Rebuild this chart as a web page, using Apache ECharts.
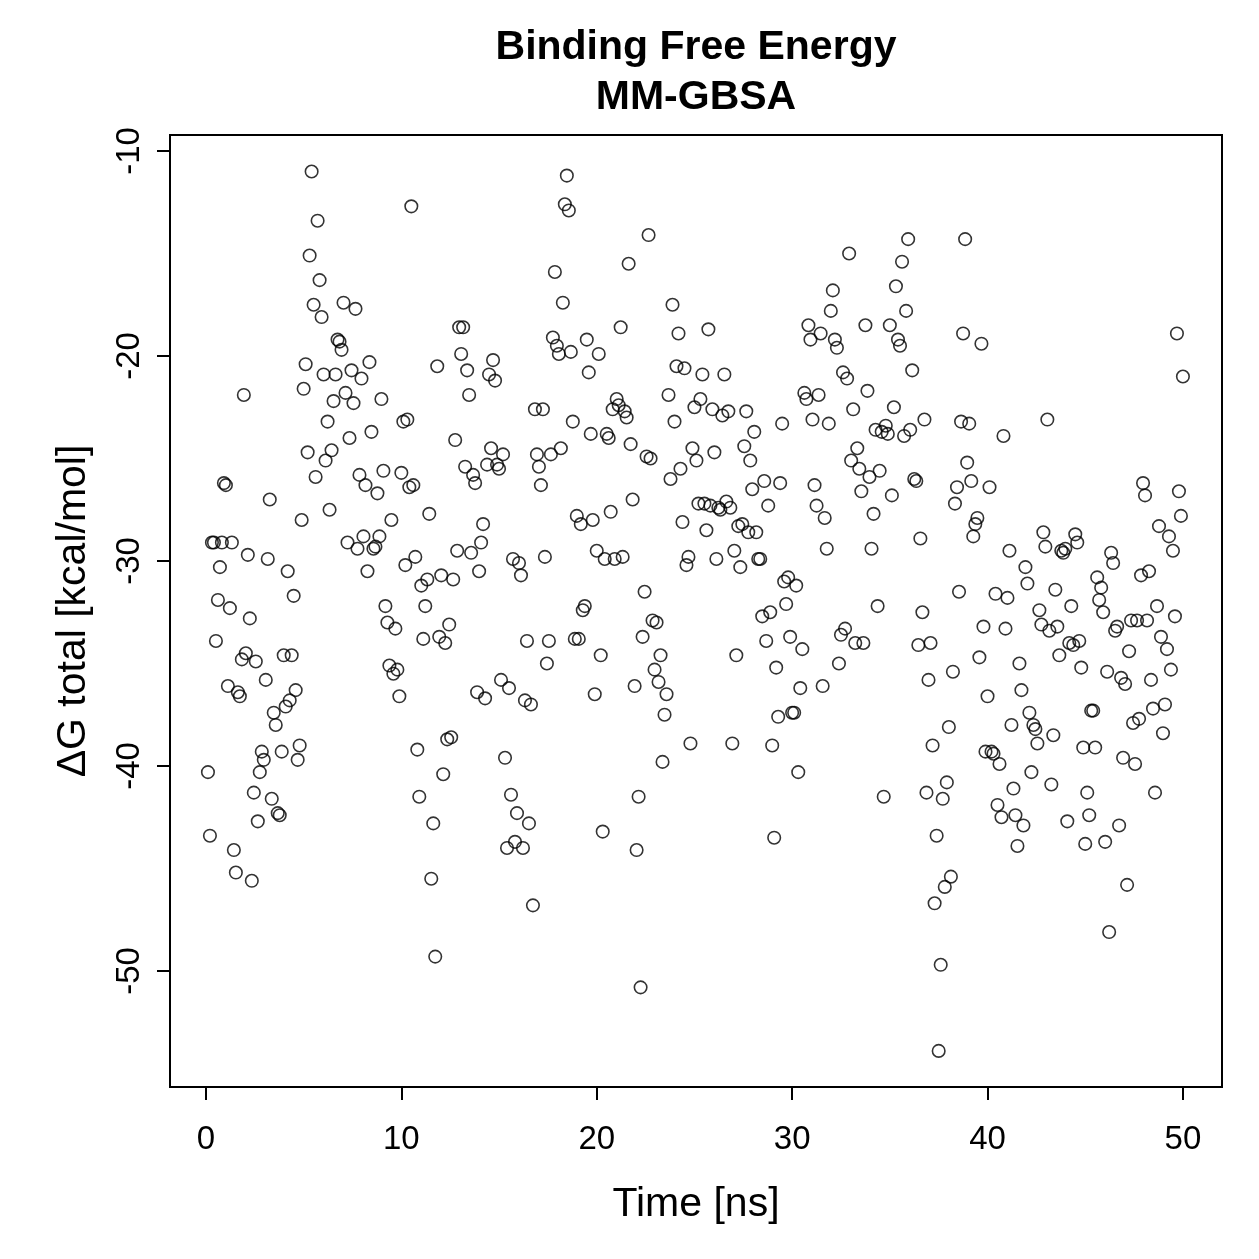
<!DOCTYPE html>
<html>
<head>
<meta charset="utf-8">
<title>Binding Free Energy MM-GBSA</title>
<script src="https://cdn.jsdelivr.net/npm/echarts@6/dist/echarts.min.js"></script>
<style>
  html, body { margin: 0; padding: 0; background: #fff; }
  #chart { width: 1259px; height: 1259px; }
</style>
</head>
<body>
<div id="chart"></div>
<script>
  // dG total [kcal/mol], one value every 0.1 ns, split into 5 ns blocks
  const block0 = [-40.3, -43.4, -29.1, -29.1, -33.9, -31.9, -30.3, -29.1, -26.2, -26.3, -36.1, -32.3, -29.1, -44.1, -45.2, -36.4, -36.6, -34.8, -21.9, -34.5, -29.7, -32.8, -45.6, -41.3, -34.9, -42.7, -40.3, -39.3, -39.7, -35.8, -29.9, -27.0, -41.6, -37.4, -38.0, -42.3, -42.4, -39.3, -34.6, -37.1, -30.5, -36.8, -34.6, -31.7, -36.3, -39.7, -39.0, -28.0, -21.6];
  const block1 = [-20.4, -24.7, -15.1, -11.0, -17.5, -25.9, -13.4, -16.3, -18.1, -20.9, -25.1, -23.2, -27.5, -24.6, -22.2, -20.9, -19.2, -19.3, -19.7, -17.4, -21.8, -29.1, -24.0, -20.7, -22.3, -17.7, -29.4, -25.8, -21.1, -28.8, -26.3, -30.5, -20.3, -23.7, -29.4, -29.3, -26.7, -28.8, -22.1, -25.6, -32.2, -33.0, -35.1, -28.0, -35.5, -33.3, -35.3, -36.6, -25.7];
  const block2 = [-23.2, -30.2, -23.1, -26.4, -12.7, -26.3, -29.8, -39.2, -41.5, -31.2, -33.8, -32.2, -30.9, -27.7, -45.5, -42.8, -49.3, -20.5, -33.7, -30.7, -40.4, -34.0, -38.7, -33.1, -38.6, -30.9, -24.1, -29.5, -18.6, -19.9, -18.6, -25.4, -20.7, -21.9, -29.6, -25.8, -26.2, -36.4, -30.5, -29.1, -28.2, -36.7, -25.3, -20.9, -24.5, -20.2, -21.2, -25.3, -25.5];
  const block3 = [-35.8, -24.8, -39.6, -44.0, -36.2, -41.4, -29.9, -43.7, -42.3, -30.1, -30.7, -44.0, -36.8, -33.9, -42.8, -37.0, -46.8, -22.6, -24.8, -25.4, -26.3, -22.6, -29.8, -35.0, -33.9, -24.8, -19.1, -15.9, -19.5, -19.9, -24.5, -17.4, -12.6, -11.2, -12.9, -19.8, -23.2, -33.8, -27.8, -33.8, -28.2, -32.4, -32.2, -19.2, -20.8, -23.8, -28.0, -36.5, -29.5];
  const block4 = [-19.9, -34.6, -43.2, -29.9, -23.8, -24.0, -27.6, -22.6, -29.9, -22.1, -22.4, -18.6, -29.8, -22.7, -23.0, -15.5, -24.3, -27.0, -36.1, -44.1, -41.5, -50.8, -33.7, -31.5, -24.9, -14.1, -25.0, -32.9, -35.3, -33.0, -35.9, -34.6, -39.8, -37.5, -36.5, -21.9, -26.0, -17.5, -23.2, -20.5, -18.9, -25.5, -28.1, -20.6, -30.2, -29.8, -38.9, -24.5, -22.5];
  const block5 = [-25.1, -27.2, -22.1, -20.9, -27.2, -28.5, -18.7, -27.3, -22.6, -24.7, -29.9, -27.4, -27.5, -22.9, -20.9, -27.1, -22.7, -27.4, -38.9, -29.5, -34.6, -28.3, -30.3, -28.2, -24.4, -22.7, -28.6, -25.1, -26.5, -23.7, -28.6, -29.9, -29.9, -32.7, -26.1, -33.9, -27.3, -32.5, -39.0, -43.5, -35.2, -37.6, -26.2, -23.3, -31.0, -32.1, -30.8, -33.7, -37.4];
  const block6 = [-37.4, -31.2, -40.3, -36.2, -34.3, -21.8, -22.1, -18.5, -19.2, -23.1, -26.3, -27.3, -21.9, -18.9, -36.1, -27.9, -29.4, -23.3, -17.8, -16.8, -19.2, -19.6, -35.0, -33.6, -20.8, -33.3, -21.1, -15.0, -25.1, -22.6, -34.0, -24.5, -25.5, -26.6, -34.0, -18.5, -21.7, -25.9, -29.4, -27.7, -23.6, -32.2, -25.6, -23.7, -41.5, -23.4, -23.8, -18.5];
  const block7 = [-26.8, -22.5, -16.6, -19.2, -19.5, -15.4, -23.9, -17.8, -14.3, -23.6, -20.7, -26.0, -26.1, -34.1, -28.9, -32.5, -23.1, -41.3, -35.8, -34.0, -39.0, -46.7, -43.4, -53.9, -49.7, -41.6, -45.9, -40.8, -38.1, -45.4, -35.4, -27.2, -26.4, -31.5, -23.2, -18.9, -14.3, -25.2, -23.3, -26.1, -28.8, -28.2, -27.9, -34.7, -19.4, -33.2, -39.3, -36.6];
  const block8 = [-26.4, -39.3, -39.4, -31.6, -41.9, -39.9, -42.5, -23.9, -33.3, -31.8, -29.5, -38.0, -41.1, -42.4, -43.9, -35.0, -36.3, -42.9, -30.3, -31.1, -37.4, -40.3, -38.0, -38.2, -38.9, -32.4, -33.1, -28.6, -29.3, -23.1, -33.4, -40.9, -38.5, -31.4, -33.2, -34.6, -29.5, -29.6, -29.4, -42.7, -34.0, -32.2, -34.1, -28.7, -29.1, -33.9, -35.2, -39.1, -43.8];
  const block9 = [-41.3, -42.4, -37.3, -37.3, -39.1, -30.8, -31.9, -31.3, -32.5, -43.7, -35.4, -48.1, -29.6, -30.1, -33.4, -33.2, -42.9, -35.7, -39.6, -36.0, -45.8, -34.4, -32.9, -37.9, -39.9, -32.9, -37.7, -30.7, -26.2, -26.8, -32.9, -30.5, -35.8, -37.2, -41.3, -32.2, -28.3, -33.7, -38.4, -37.0, -34.3, -28.8, -35.3, -29.5, -32.7, -18.9, -26.6, -27.8, -21.0];

  const blocks = [block0, block1, block2, block3, block4, block5, block6, block7, block8, block9];
  const blockStart = [0, 5, 10, 15, 20, 25, 30, 35, 40, 45]; // ns
  const blockSpan = 5; // ns
  const xTicks = [0, 10, 20, 30, 40, 50];
  const yTicks = [-50, -40, -30, -20, -10];

  // spread each block's samples evenly over its 5 ns
  const points = [];
  blocks.forEach((vals, b) => {
    const step = blockSpan / vals.length;
    vals.forEach((v, i) => points.push([blockStart[b] + step * (i + 1), v]));
  });

  const FONT = "'Liberation Sans', Arial, Helvetica, sans-serif";
  const chart = echarts.init(document.getElementById('chart'), null, { renderer: 'canvas' });

  chart.setOption({
    backgroundColor: '#ffffff',
    animation: false,
    textStyle: { fontFamily: FONT },
    graphic: [
      {
        type: 'text',
        x: 696,
        y: 23,
        style: {
          text: 'Binding Free Energy\nMM-GBSA',
          textAlign: 'center',
          fontFamily: FONT,
          fontSize: 41,
          fontWeight: 'bold',
          lineHeight: 50,
          fill: '#000',
        },
      },
    ],
    grid: {
      left: 170,
      top: 135,
      width: 1052,
      height: 952,
      show: true,
      borderColor: '#000',
      borderWidth: 2,
      backgroundColor: 'transparent',
    },
    xAxis: {
      type: 'value',
      min: -1.84,
      max: 52.0,
      name: 'Time [ns]',
      nameLocation: 'middle',
      nameGap: 97,
      nameTextStyle: { fontSize: 41, color: '#000', fontFamily: FONT },
      axisLine: { show: false, onZero: false },
      splitLine: { show: false },
      axisTick: {
        show: true,
        inside: false,
        length: 13,
        customValues: xTicks,
        lineStyle: { color: '#000', width: 2 },
      },
      axisLabel: {
        customValues: xTicks,
        margin: 36,
        fontSize: 33,
        color: '#000',
        fontFamily: FONT,
      },
    },
    yAxis: {
      type: 'value',
      min: -55.66,
      max: -9.22,
      name: 'ΔG total [kcal/mol]',
      nameLocation: 'middle',
      nameGap: 76,
      nameRotate: 90,
      nameTextStyle: { fontSize: 41, color: '#000', fontFamily: FONT },
      axisLine: { show: false, onZero: false },
      splitLine: { show: false },
      axisTick: {
        show: true,
        inside: false,
        length: 13,
        customValues: yTicks,
        lineStyle: { color: '#000', width: 2 },
      },
      axisLabel: {
        customValues: yTicks,
        rotate: 90,
        margin: 24,
        fontSize: 33,
        color: '#000',
        fontFamily: FONT,
      },
    },
    series: [
      {
        type: 'scatter',
        data: points,
        symbol: 'circle',
        symbolSize: 12.5,
        itemStyle: {
          color: 'rgba(0,0,0,0)',
          borderColor: '#000',
          borderWidth: 1.6,
        },
      },
    ],
  });
</script>
</body>
</html>
